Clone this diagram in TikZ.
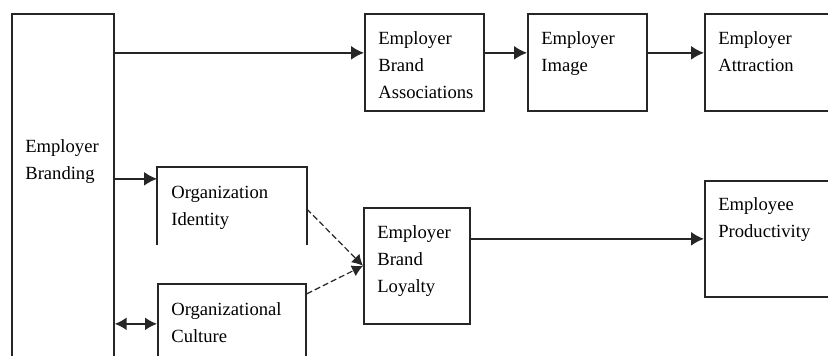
\documentclass[tikz,border=0pt]{standalone}
\usepackage{fontspec}
\setmainfont{Liberation Serif}
\usetikzlibrary{arrows.meta}

\tikzset{
  blk/.style={draw=black!85, line width=1.7pt, anchor=north west, inner sep=0pt,
    font=\fontsize{18.6}{27}\selectfont},
  arr/.style={-{Latex[length=13pt,width=14pt]}, line width=1.7pt, draw=black!85},
  darr/.style={{Latex[length=12pt,width=13pt]}-{Latex[length=12pt,width=13pt]},
    line width=1.7pt, draw=black!85},
  dsh/.style={-{Latex[length=11pt,width=12pt]}, line width=1.2pt, draw=black!85,
    dash pattern=on 6pt off 3pt},
}
% box text: width, height, first baseline, lines
\newcommand{\blktext}[4]{\parbox[c][#2][t]{#1}{\raggedright\leftskip=13.5pt\rule{0pt}{#3}#4}}

\begin{document}
\begin{tikzpicture}[x=1pt,y=-1pt]
  \useasboundingbox (0,0) rectangle (828,356);
  \clip (0,0) rectangle (828,356);

  % Boxes
  \node[blk] (brand) at (11,13) {\blktext{102pt}{420pt}{139pt}{Employer\\Branding}};
  \node[blk] (assoc) at (364,13) {\blktext{119pt}{97pt}{31pt}{Employer\\Brand\\Associations}};
  \node[blk] (img) at (527,13) {\blktext{119pt}{97pt}{31pt}{Employer\\Image}};
  \node[blk] (attr) at (704,13) {\blktext{140pt}{97pt}{31pt}{Employer\\Attraction}};
  \node[blk,draw=none] (ident) at (157,167) {\blktext{148pt}{76pt}{31pt}{Organization\\Identity}};
  \node[blk] (cult) at (157,283) {\blktext{148pt}{100pt}{32pt}{Organizational\\Culture}};
  \node[blk] (loy) at (363,207) {\blktext{106pt}{116pt}{31pt}{Employer\\Brand\\Loyalty}};
  \node[blk] (prod) at (704,180) {\blktext{140pt}{116pt}{30pt}{Employee\\Productivity}};

  % Open box
  \draw[draw=black!85,line width=1.7pt] (ident.south west) -- (ident.north west)
    -- (ident.north east) -- (ident.south east);

  % Arrows
  \draw[arr] ([yshift=9.5pt]assoc.west -| brand.east) -- ([yshift=9.5pt]assoc.west);
  \draw[arr] ([yshift=9.5pt]assoc.east) -- ([yshift=9.5pt]img.west);
  \draw[arr] ([yshift=9.5pt]img.east) -- ([yshift=9.5pt]attr.west);
  \draw[arr] ([yshift=27pt]ident.west -| brand.east) -- ([yshift=27pt]ident.west);
  \draw[darr] ([yshift=10pt]cult.west -| brand.east) -- ([yshift=10pt]cult.west);
  \draw[arr] (loy.east |- prod.west) -- (prod.west);

  % Dashed links
  \draw[dsh] ([yshift=-3pt]ident.east) -- (loy.west);
  \draw[dsh] ([yshift=40pt]cult.east) -- (loy.west);
\end{tikzpicture}
\end{document}
